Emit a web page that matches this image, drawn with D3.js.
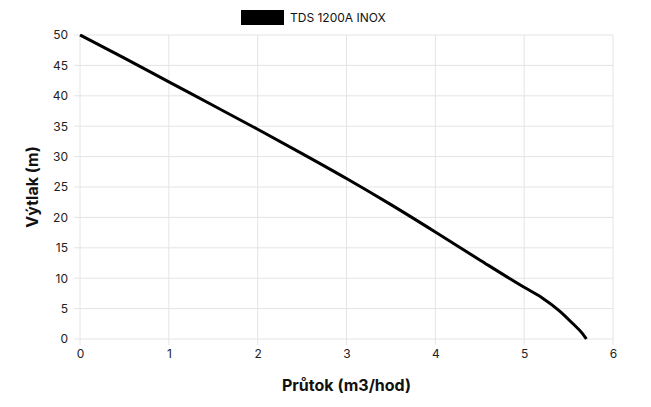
<!DOCTYPE html>
<meta charset="utf-8">
<style>
  body { margin: 0; background: #fff; }
  text { font-family: Inter, "Open Sans", sans-serif; fill: #111; }
  .grid line { stroke: #e4e4e4; stroke-width: 1px; }
  .axis path, .axis line { stroke: #ccc; }
  .axis text { font-size: 12px; fill: #222; }
  .title { font-size: 16px; font-weight: bold; }
</style>
<svg width="651" height="407"></svg>
<script src="https://cdn.jsdelivr.net/npm/d3@7"></script>
<script>
  const seriesName = "TDS 1200A INOX";
  const flow = [0, 0.5, 1, 1.5, 2, 2.5, 3, 3.5, 4, 4.5, 5, 5.2, 5.4, 5.55, 5.65, 5.7];
  const head = [50, 46.2, 42.3, 38.4, 34.5, 30.5, 26.4, 22.1, 17.6, 13.0, 8.5, 6.8, 4.6, 2.5, 1.0, 0];
  const xTicks = [0, 1, 2, 3, 4, 5, 6];
  const yTicks = [0, 5, 10, 15, 20, 25, 30, 35, 40, 45, 50];

  const margin = {top: 35, right: 38, bottom: 68, left: 80},
    width = 651 - margin.left - margin.right,
    height = 407 - margin.top - margin.bottom;

  const svgRoot = d3.select("svg");
  const svg = svgRoot.append("g")
    .attr("transform", "translate(" + margin.left + "," + margin.top + ")");

  const x = d3.scaleLinear().domain([0, 6]).range([0, width]);
  const y = d3.scaleLinear().domain([0, 50]).range([height, 0]);

  // grid
  svg.append("g").attr("class", "grid")
    .selectAll("line.v").data(xTicks).enter().append("line")
    .attr("x1", d => x(d)).attr("x2", d => x(d)).attr("y1", 0).attr("y2", height + 6);
  svg.append("g").attr("class", "grid")
    .selectAll("line.h").data(yTicks).enter().append("line")
    .attr("x1", -6).attr("x2", width).attr("y1", d => y(d)).attr("y2", d => y(d));

  svg.append("g").attr("class", "axis")
    .attr("transform", "translate(0," + height + ")")
    .call(d3.axisBottom(x).tickValues(xTicks).tickFormat(d3.format("d")).tickSize(0).tickPadding(10))
    .call(g => g.select(".domain").remove());
  svg.append("g").attr("class", "axis")
    .call(d3.axisLeft(y).tickValues(yTicks).tickFormat(d3.format("d")).tickSize(0).tickPadding(12))
    .call(g => g.select(".domain").remove());

  svg.append("path")
    .datum(flow.map((f, i) => [f, head[i]]))
    .attr("fill", "none")
    .attr("stroke", "#000")
    .attr("stroke-width", 3)
    .attr("d", d3.line().x(d => x(d[0])).y(d => y(d[1])).curve(d3.curveMonotoneX));

  svgRoot.append("text").attr("class", "title")
    .attr("x", margin.left + width / 2).attr("y", 391)
    .attr("text-anchor", "middle").text("Průtok (m3/hod)");
  svgRoot.append("text").attr("class", "title")
    .attr("transform", "translate(38," + (margin.top + height / 2) + ") rotate(-90)")
    .attr("text-anchor", "middle").text("Výtlak (m)");

  // legend
  svgRoot.append("rect").attr("x", 241).attr("y", 10).attr("width", 43).attr("height", 15).attr("fill", "#000");
  svgRoot.append("text").attr("x", 290).attr("y", 22).attr("font-size", 12).text(seriesName);
</script>
